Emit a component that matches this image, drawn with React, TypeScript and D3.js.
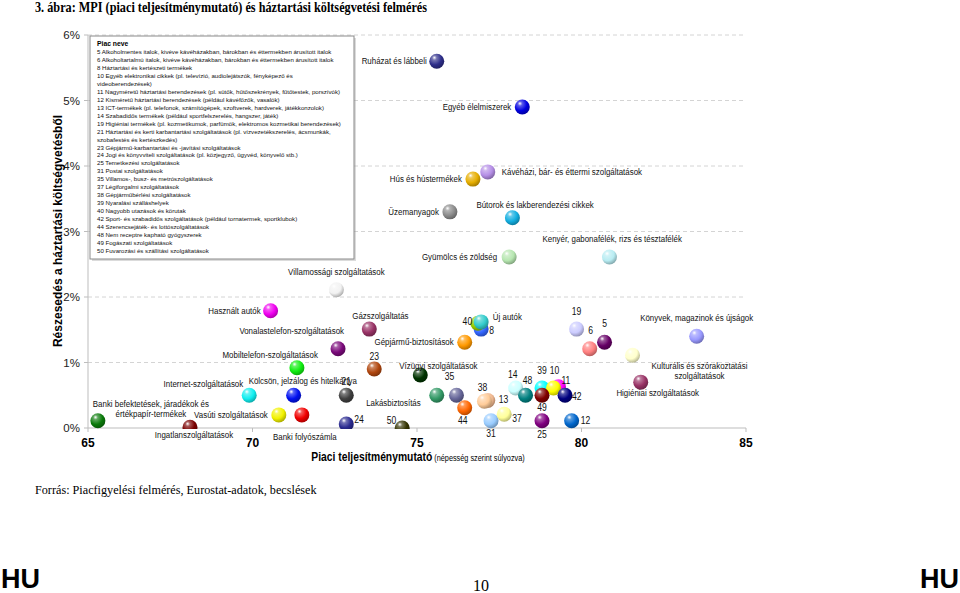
import React from 'react';
import * as d3 from 'd3';

// piac nevek, MPI és részesedés (a kép alapján becsült értékek)
const names = [
  'Ruházat és lábbeli', 'Egyéb élelmiszerek', 'Kávéházi, bár- és éttermi szolgáltatások', 'Hús és hústermékek',
  'Üzemanyagok', 'Bútorok és lakberendezési cikkek', 'Gyümölcs és zöldség', 'Kenyér, gabonafélék, rizs és tésztafélék',
  'Villamossági szolgáltatások', 'Használt autók', 'Gázszolgáltatás', 'Vonalastelefon-szolgáltatások',
  'Mobiltelefon-szolgáltatások', '23', 'Internet-szolgáltatások', 'Kölcsön, jelzálog és hitelkártya',
  '21', 'Vasúti szolgáltatások', 'Banki folyószámla', 'Banki befektetések, járadékok és|értékpapír-termékek',
  'Ingatlanszolgáltatások', '24', '50', 'Vízügyi szolgáltatások',
  'Lakásbiztosítás', '35', 'Gépjármű-biztosítások', '44',
  '13', '38', '31', '37',
  '14', '48', '39', '11',
  '10', '49', '42', '25',
  '12', '8', 'Új autók', '40',
  '19', '6', '5', 'Kulturális és szórakoztatási|szolgáltatások',
  'Higiéniai szolgáltatások', 'Könyvek, magazinok és újságok',
];

const mpi = [
  75.6, 78.2, 77.15, 76.7,
  76.0, 77.9, 77.8, 80.85,
  72.55, 70.55, 73.55, 72.6,
  71.35, 73.7, 69.9, 71.25,
  72.85, 70.8, 71.5, 65.3,
  68.1, 72.85, 74.55, 75.1,
  75.6, 76.2, 76.45, 76.45,
  77.15, 77.05, 77.25, 77.65,
  78.0, 78.3, 78.8, 79.3,
  79.15, 78.8, 79.5, 78.8,
  79.7, 76.95, 76.85, 76.95,
  79.85, 80.25, 80.7, 81.55,
  81.8, 83.5,
];

const share = [
  5.6, 4.9, 3.91, 3.8,
  3.3, 3.21, 2.61, 2.61,
  2.11, 1.79, 1.51, 1.21,
  0.92, 0.9, 0.5, 0.5,
  0.5, 0.2, 0.2, 0.11,
  0.01, 0.06, 0.0, 0.81,
  0.5, 0.5, 1.31, 0.31,
  0.42, 0.41, 0.11, 0.21,
  0.61, 0.5, 0.61, 0.63,
  0.61, 0.5, 0.5, 0.11,
  0.11, 1.51, 1.6, 1.62,
  1.51, 1.21, 1.31, 1.11,
  0.7, 1.4,
];

const colors = [
  '#2e2e8a', '#0000e0', '#b58ee6', '#e6ae00',
  '#8c8c8c', '#12aee0', '#b6e6b0', '#b8ecf2',
  '#f2f2f2', '#f000f0', '#993366', '#7a0a7a',
  '#10ee10', '#b0460e', '#10eef0', '#0010f0',
  '#404040', '#f2f200', '#f00000', '#0a7a0a',
  '#7a0000', '#2a2a90', '#333300', '#003300',
  '#339966', '#666699', '#ff9900', '#ff6600',
  '#f0b890', '#ffcc99', '#99ccff', '#ffff99',
  '#ccffff', '#008080', '#00ffff', '#ff00ff',
  '#ffff00', '#800000', '#000080', '#800080',
  '#0066cc', '#3366ff', '#99cc00', '#33cccc',
  '#ccccff', '#ff8080', '#660066', '#ffffcc',
  '#993366', '#9999ff',
];

// címke elhelyezés: [dx, dy, anchor]
const labelLayout: [number, number, string][] = [
  [-10, 3, 'end'], [-11, 3, 'end'], [14, 3, 'start'], [-11, 3, 'end'],
  [-11, 3, 'end'], [-36, -10, 'start'], [-12, 3, 'end'], [-67, -15, 'start'],
  [0, -15, 'middle'], [-10, 3, 'end'], [-17, -10, 'start'], [6, -15, 'end'],
  [21, -10, 'end'], [0, -9, 'middle'], [-6, -8, 'end'], [-45, -11, 'start'],
  [0, -10, 'middle'], [-11, 3, 'end'], [3, 25, 'middle'], [53, -14, 'middle'],
  [4, 11, 'middle'], [8, -1, 'start'], [-6, -4, 'end'], [-21, -6, 'start'],
  [-16, 11, 'end'], [-7, -15, 'middle'], [-11, 3, 'end'], [-2, 16, 'middle'],
  [11, 3, 'start'], [-2, -10, 'middle'], [0, 16, 'middle'], [8, 8, 'start'],
  [-3, -10, 'middle'], [2, -11, 'middle'], [0, -14, 'middle'], [3, -3, 'start'],
  [1, -14, 'middle'], [0, 16, 'middle'], [7, 5, 'start'], [0, 17, 'middle'],
  [9, 3, 'start'], [8, 5, 'start'], [15, -3, 'start'], [-9, 3, 'end'],
  [0, -14, 'middle'], [1, -15, 'middle'], [0, -15, 'middle'], [67, 14, 'middle'],
  [17, 14, 'middle'], [0, -15, 'middle'],
];

const legendLines = [
  '5 Alkoholmentes italok, kivéve kávéházakban, bárokban és éttermekben árusított italok',
  '6 Alkoholtartalmú italok, kivéve kávéházakban, bárokban és éttermekben árusított italok',
  '8 Háztartási és kertészeti termékek',
  '10 Egyéb elektronikai cikkek (pl. televízió, audiolejátszók, fényképező és',
  'videoberendezések)',
  '11 Nagyméretű háztartási berendezések (pl. sütők, hűtőszekrények, fűtőtestek, porszívók)',
  '12 Kisméretű háztartási berendezések (például kávéfőzők, vasalók)',
  '13 ICT-termékek (pl. telefonok, számítógépek, szoftverek, hardverek, játékkonzolok)',
  '14 Szabadidős termékek (például sportfelszerelés, hangszer, játék)',
  '19 Higiéniai termékek (pl. kozmetikumok, parfümök, elektromos kozmetikai berendezések)',
  '21 Háztartási és kerti karbantartási szolgáltatások (pl. vízvezetékszerelés, ácsmunkák,',
  'szobafestés és kertészkedés)',
  '23 Gépjármű-karbantartási és -javítási szolgáltatások',
  '24 Jogi és könyvviteli szolgáltatások (pl. közjegyző, ügyvéd, könyvelő stb.)',
  '25 Temetkezési szolgáltatások',
  '31 Postai szolgáltatások',
  '35 Villamos-, busz- és metrószolgáltatások',
  '37 Légiforgalmi szolgáltatások',
  '38 Gépjárműbérlési szolgáltatások',
  '39 Nyaralási szálláshelyek',
  '40 Nagyobb utazások és körutak',
  '42 Sport- és szabadidős szolgáltatások (például tornatermek, sportklubok)',
  '44 Szerencsejáték- és lottószolgáltatások',
  '48 Nem receptre kapható gyógyszerek',
  '49 Fogászati szolgáltatások',
  '50 Fuvarozási és szállítási szolgáltatások',
];

const xTicks = [65, 70, 75, 80, 85];
const yTicks = [0, 1, 2, 3, 4, 5, 6];

const SANS = 'Liberation Sans, Arial, sans-serif';
const SERIF = 'Liberation Serif, Times New Roman, serif';

export default function App() {
  const x = d3.scaleLinear().domain([65, 85]).range([88, 746]);
  const y = d3.scaleLinear().domain([0, 6]).range([428, 35]);
  const r = 7.5;
  const squeeze = 0.86;

  return (
    <svg width={960} height={593} style={{ position: 'absolute', left: 0, top: 0, background: '#fff' }}>
      <defs>
        {colors.map((c, i) => {
          const base = d3.color(c)!;
          return (
            <radialGradient key={i} id={`g${i}`} cx="38%" cy="32%" r="68%" fx="34%" fy="26%">
              <stop offset="0%" stopColor="#ffffff" stopOpacity={0.95} />
              <stop offset="22%" stopColor={d3.interpolateRgb(c, '#fff')(0.35)} />
              <stop offset="65%" stopColor={c} />
              <stop offset="100%" stopColor={base.darker(0.9).formatHex()} />
            </radialGradient>
          );
        })}
        <clipPath id="plotClip">
          <rect x={60} y={20} width={760} height={409} />
        </clipPath>
      </defs>

      <text x={35} y={12} fontFamily={SERIF} fontWeight="bold" fontSize={14.5}
        textLength={392} lengthAdjust="spacingAndGlyphs">
        3. ábra: MPI (piaci teljesítménymutató) és háztartási költségvetési felmérés
      </text>

      {/* rács */}
      {yTicks.filter(t => t > 0).map(t => (
        <line key={t} x1={x(65)} x2={x(85)} y1={y(t)} y2={y(t)} stroke="#d4d4d4" strokeWidth={1} strokeDasharray="4,3" />
      ))}
      <line x1={x(65)} x2={x(85)} y1={y(0)} y2={y(0)} stroke="#bdbdbd" />
      <line x1={x(65)} x2={x(65)} y1={y(0)} y2={y(6)} stroke="#bdbdbd" />
      {yTicks.map(t => (
        <g key={t}>
          <line x1={x(65) - 4} x2={x(65)} y1={y(t)} y2={y(t)} stroke="#bdbdbd" />
          <text x={80} y={y(t) + 4} textAnchor="end" fontFamily={SANS} fontSize={11.5} fill="#222">{t}%</text>
        </g>
      ))}
      {xTicks.map(t => (
        <g key={t}>
          <line x1={x(t)} x2={x(t)} y1={y(0)} y2={y(0) + 4} stroke="#bdbdbd" />
          <text x={x(t)} y={447} textAnchor="middle" fontFamily={SANS} fontWeight="bold" fontSize={12}>{t}</text>
        </g>
      ))}

      <text transform="translate(62,231) rotate(-90)" textAnchor="middle" fontFamily={SANS} fontWeight="bold" fontSize={12}>
        Részesedés a háztartási költségvetésből
      </text>
      <text transform={`translate(418,461) scale(${squeeze},1)`} textAnchor="middle" fontFamily={SANS}>
        <tspan fontWeight="bold" fontSize={12}>Piaci teljesítménymutató</tspan>
        <tspan fontSize={8.5}> (népesség szerint súlyozva)</tspan>
      </text>

      {/* jelmagyarázat */}
      <rect x={92} y={38} width={264} height={223} fill="#999" opacity={0.35} />
      <rect x={90} y={36} width={264} height={223} fill="#fff" stroke="#8a8a8a" strokeWidth={1} />
      <text x={97} y={46} fontFamily={SANS} fontWeight="bold" fontSize={6.8}>Piac neve</text>
      {legendLines.map((l, i) => (
        <text key={i} x={97} y={54 + i * 7.96} fontFamily={SANS} fontSize={6.1} fill="#111">{l}</text>
      ))}

      {/* pontok */}
      <g clipPath="url(#plotClip)">
        {names.map((n, i) => (
          <circle key={n} cx={x(mpi[i])} cy={y(share[i])} r={r} fill={`url(#g${i})`} />
        ))}
      </g>

      {/* címkék */}
      {names.map((n, i) => {
        const [dx, dy, anchor] = labelLayout[i];
        const parts = n.split('|');
        const isNum = /^\d+$/.test(n);
        return (
          <text key={`l${i}`}
            transform={`translate(${x(mpi[i]) + dx},${y(share[i]) + dy}) scale(${squeeze},1)`}
            textAnchor={anchor} fontFamily={SANS} fontSize={isNum ? 10 : 9.2} fill="#111">
            {parts.map((p, k) => (
              <tspan key={k} x={0} dy={k === 0 ? 0 : 10}>{p}</tspan>
            ))}
          </text>
        );
      })}

      <text x={35} y={494} fontFamily={SERIF} fontSize={12.2}>
        Forrás: Piacfigyelési felmérés, Eurostat-adatok, becslések
      </text>

      <text x={1} y={588} fontFamily={SANS} fontWeight="bold" fontSize={27}>HU</text>
      <text x={959} y={588} textAnchor="end" fontFamily={SANS} fontWeight="bold" fontSize={27}>HU</text>
      <text x={481} y={591} textAnchor="middle" fontFamily={SERIF} fontSize={16}>10</text>
    </svg>
  );
}
